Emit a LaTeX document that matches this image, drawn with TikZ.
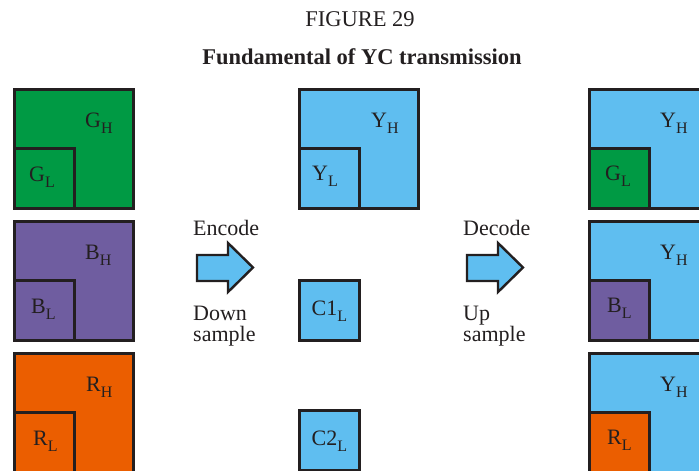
\documentclass[tikz,border=0pt]{standalone}
\usepackage{fontspec}
\setmainfont{Liberation Serif}
\definecolor{ink}{HTML}{231F20}
\definecolor{cgreen}{RGB}{0,154,68}
\definecolor{cpurple}{RGB}{111,93,160}
\definecolor{corange}{RGB}{235,94,0}
\definecolor{cblue}{RGB}{95,190,240}
\newcommand{\lab}[2]{#1{\fontsize{16}{16}\selectfont\raisebox{-6pt}{#2}}}
\begin{document}
\begin{tikzpicture}[x=1pt,y=-1pt,
  big/.style={draw=ink,line width=2.6pt,minimum size=119pt,inner sep=0pt,anchor=north west},
  small/.style={draw=ink,line width=2.6pt,minimum size=60pt,inner sep=0pt,anchor=south west},
  txt/.style={text=ink,font=\fontsize{22}{22}\selectfont,inner sep=0pt,anchor=base west},
  arr/.style={draw=ink,line width=2.4pt,fill=cblue,line join=miter}]
\useasboundingbox (0,0) rectangle (699,471);
\clip (0,0) rectangle (699,471);
\node[text=ink,font=\fontsize{22.5}{22.5}\selectfont,inner sep=0pt,anchor=base] (fig) at (360,26) {FIGURE 29};
\node[text=ink,font=\fontsize{22.5}{22.5}\selectfont\bfseries,inner sep=0pt,anchor=base] (title) at (362,64) {Fundamental of YC transmission};
% left column
\node[big,fill=cgreen] (G) at (13,88) {};
\node[small,fill=cgreen] (GL) at (G.south west) {};
\node[big,fill=cpurple] (B) at (13,220) {};
\node[small,fill=cpurple] (BL) at (B.south west) {};
\node[big,fill=corange] (R) at (13,352) {};
\node[small,fill=corange] (RL) at (R.south west) {};
\node[txt] (tGH) at (85,127) {\lab{G}{H}};
\node[txt] (tGL) at (29,181) {\lab{G}{L}};
\node[txt] (tBH) at (85,259) {\lab{B}{H}};
\node[txt] (tBL) at (31,313) {\lab{B}{L}};
\node[txt] (tRH) at (86,391) {\lab{R}{H}};
\node[txt] (tRL) at (33,445) {\lab{R}{L}};
% middle column
\node[big,fill=cblue] (Y) at (298,88) {};
\node[small,fill=cblue] (YL) at (Y.south west) {};
\node[txt] (tYH) at (371,127) {\lab{Y}{H}};
\node[txt] (tYL) at (312,180) {\lab{Y}{L}};
\node[small,fill=cblue,anchor=north west] (C1) at (298,279) {};
\node[small,fill=cblue,anchor=north west] (C2) at (298,409) {};
\node[txt,anchor=center] (tC1) at ([yshift=-1pt]C1.center) {\lab{C1}{L}};
\node[txt,anchor=center] (tC2) at ([yshift=-1pt]C2.center) {\lab{C2}{L}};
% right column
\node[big,fill=cblue] (Y1) at (588,88) {};
\node[small,fill=cgreen] (G2) at (Y1.south west) {};
\node[big,fill=cblue] (Y2) at (588,220) {};
\node[small,fill=cpurple] (B2) at (Y2.south west) {};
\node[big,fill=cblue] (Y3) at (588,352) {};
\node[small,fill=corange] (R2) at (Y3.south west) {};
\node[txt] (tY1) at (660,127) {\lab{Y}{H}};
\node[txt] (tY2) at (660,259) {\lab{Y}{H}};
\node[txt] (tY3) at (660,391) {\lab{Y}{H}};
\node[txt] (tG2) at (605,180) {\lab{G}{L}};
\node[txt] (tB2) at (607,312) {\lab{B}{L}};
\node[txt] (tR2) at (607,444) {\lab{R}{L}};
% arrows
\draw[arr] (197,255) -- (228,255) -- (228,243) -- (253,267.5) -- (228,292) -- (228,281) -- (197,281) -- cycle;
\draw[arr] (467,255) -- (498,255) -- (498,243) -- (523,267.5) -- (498,292) -- (498,281) -- (467,281) -- cycle;
\node[txt] (enc) at (193,235) {Encode};
\node[txt] (down) at (193,320) {Down};
\node[txt] (down2) at (193,341) {sample};
\node[txt] (dec) at (463,235) {Decode};
\node[txt] (up) at (463,320) {Up};
\node[txt] (up2) at (463,341) {sample};
\end{tikzpicture}
\end{document}
